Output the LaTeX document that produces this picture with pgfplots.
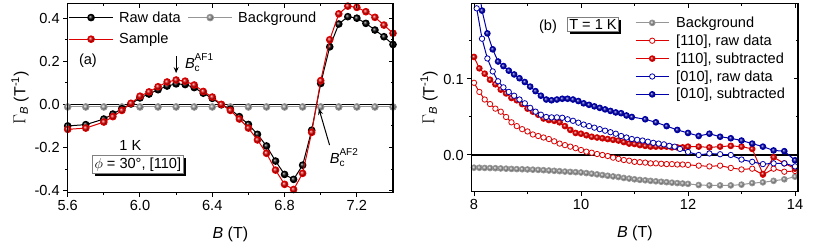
\documentclass[border=0pt]{standalone}
\usepackage{amsmath}
\usepackage{fontspec}
\setmainfont{Liberation Sans}
\usepackage{pgfplots}
\usepackage{pgfplotstable}
\pgfplotsset{compat=1.18}
\usetikzlibrary{shadows,arrows.meta}
\definecolor{myred}{RGB}{220,0,0}
\definecolor{myblue}{RGB}{0,0,170}
\definecolor{mygray}{RGB}{150,150,150}
\newcommand{\fs}{\fontsize{14.6}{17}\selectfont}
\newcommand{\fl}{\fontsize{16}{19}\selectfont}
\newcommand{\fsub}{\fontsize{10}{12}\selectfont}
\newcommand{\Bc}[1]{\textit{B}\rlap{\raisebox{-3.5pt}{\fsub c}}\raisebox{7.5pt}{\fsub #1}}

\pgfplotsset{
  common/.style={
    scale only axis, anchor=south west,
    axis line style={line width=1.1pt},
    every tick/.style={black, line width=1pt},
    major tick length=4.5pt, minor tick length=2.5pt,
  },
  base/.style={common,
    tick align=outside,
    xtick pos=bottom, ytick pos=left,
    tick label style={font=\fs},
    /pgf/number format/assume math mode=true,
    label style={font=\fl},
    clip mode=individual,
  },
  mirror/.style={common,
    tick align=inside,
    xtick pos=top, ytick pos=right,
    xticklabels={}, yticklabels={},
  },
  panelA/.style={at={(67.7pt,51.7pt)}, width=325.3pt, height=189pt,
    xmin=5.6, xmax=7.4, ymin=-0.408, ymax=0.469,
    xtick={5.6,6.0,6.4,6.8,7.2}, minor xtick={5.8,6.2,6.6,7.0},
    ytick={-0.4,-0.2,0,0.2,0.4}, minor ytick={-0.3,-0.1,0.1,0.3}},
  panelB/.style={at={(471.7pt,52.3pt)}, width=326.3pt, height=188.4pt,
    xmin=7.957, xmax=14.056, ymin=-0.0483, ymax=0.1996,
    xtick={8,10,12,14}, minor xtick={9,11,13},
    ytick={0,0.1}, minor ytick={0.05,0.15}},
  fmt1/.style={/pgf/number format/.cd, fixed, fixed zerofill, precision=1},
  ballA/.style={color=#1, line width=1pt, mark=ball, mark size=3.3pt, mark options={ball color=#1}},
  ballB/.style={color=#1, line width=1pt, mark=ball, mark size=2.8pt, mark options={ball color=#1}},
  openB/.style={color=#1, line width=1pt, mark=*, mark size=2.7pt, mark options={fill=white, draw=#1, line width=0.8pt}},
}

\pgfplotstableread{
x y
5.6 -0.012
5.7 -0.012
5.8 -0.012
5.9 -0.012
6.0 -0.012
6.1 -0.012
6.2 -0.012
6.3 -0.012
6.4 -0.012
6.5 -0.012
6.6 -0.012
6.7 -0.012
6.8 -0.012
6.9 -0.012
7.0 -0.012
7.1 -0.012
7.2 -0.012
7.3 -0.012
7.4 -0.012
}\bgA

\pgfplotstableread{
x y
5.6 -0.100
5.7 -0.094
5.8 -0.068
5.85 -0.045
5.9 -0.020
5.95 0.002
6.0 0.030
6.05 0.048
6.1 0.068
6.15 0.085
6.2 0.095
6.25 0.092
6.3 0.078
6.35 0.052
6.4 0.028
6.45 -0.002
6.5 -0.022
6.55 -0.057
6.6 -0.093
6.65 -0.139
6.7 -0.193
6.75 -0.263
6.8 -0.325
6.85 -0.348
6.9 -0.282
6.95 -0.120
7.0 0.097
7.05 0.267
7.1 0.373
7.15 0.407
7.2 0.400
7.25 0.376
7.3 0.345
7.35 0.314
7.4 0.278
}\rawA

\pgfplotstableread{
x y
5.6 -0.116
5.7 -0.110
5.8 -0.082
5.85 -0.057
5.9 -0.028
5.95 0.005
6.0 0.038
6.05 0.058
6.1 0.082
6.15 0.104
6.2 0.113
6.25 0.108
6.3 0.090
6.35 0.060
6.4 0.034
6.45 0.000
6.5 -0.028
6.55 -0.068
6.6 -0.110
6.65 -0.165
6.7 -0.227
6.75 -0.305
6.8 -0.371
6.85 -0.395
6.9 -0.320
6.95 -0.130
7.0 0.110
7.05 0.300
7.1 0.420
7.15 0.456
7.2 0.450
7.25 0.430
7.3 0.404
7.35 0.368
7.4 0.330
}\sampleA

\pgfplotstableread{
x y
8.0 -0.0167
8.1 -0.0168
8.2 -0.0170
8.3 -0.0172
8.4 -0.0174
8.5 -0.0177
8.6 -0.0180
8.7 -0.0183
8.8 -0.0186
8.9 -0.0188
9.0 -0.0190
9.1 -0.0193
9.2 -0.0196
9.3 -0.0200
9.4 -0.0204
9.5 -0.0208
9.6 -0.0213
9.7 -0.0218
9.8 -0.0222
9.9 -0.0226
10.0 -0.0230
10.1 -0.0238
10.2 -0.0246
10.3 -0.0255
10.4 -0.0264
10.5 -0.0273
10.6 -0.0282
10.7 -0.0290
10.8 -0.0302
10.9 -0.0310
11.0 -0.0320
11.1 -0.0327
11.2 -0.0333
11.3 -0.0340
11.4 -0.0346
11.5 -0.0352
11.6 -0.0358
11.7 -0.0364
11.8 -0.0370
11.9 -0.0375
12.0 -0.0380
12.2 -0.0395
12.4 -0.0400
12.6 -0.0400
12.8 -0.0400
13.0 -0.0390
13.2 -0.0370
13.4 -0.0360
13.6 -0.0340
13.8 -0.0320
14.0 -0.0285
}\bgB

\pgfplotstableread{
x y
8.0 0.095
8.1 0.083
8.2 0.073
8.3 0.067
8.4 0.061
8.5 0.057
8.6 0.050
8.7 0.043
8.8 0.038
8.9 0.034
9.0 0.031
9.1 0.027
9.2 0.025
9.3 0.023
9.4 0.021
9.5 0.018
9.6 0.015
9.7 0.013
9.8 0.011
9.9 0.009
10.0 0.0066
10.1 0.0044
10.2 0.003
10.3 0.0013
10.4 0.0
10.5 -0.0013
10.6 -0.0035
10.7 -0.005
10.8 -0.0066
10.9 -0.0075
11.0 -0.009
11.1 -0.0095
11.2 -0.010
11.3 -0.011
11.4 -0.011
11.5 -0.0115
11.6 -0.012
11.7 -0.012
11.8 -0.0125
11.9 -0.0125
12.0 -0.013
12.2 -0.014
12.4 -0.015
12.6 -0.014
12.8 -0.017
13.0 -0.019
13.2 -0.018
13.4 -0.026
13.6 -0.018
13.8 -0.022
14.0 -0.021
}\rawOneB

\pgfplotstableread{
x y
8.0 0.129
8.1 0.114
8.2 0.107
8.3 0.099
8.4 0.093
8.5 0.086
8.6 0.081
8.7 0.075
8.8 0.072
8.9 0.067
9.0 0.061
9.1 0.057
9.2 0.053
9.3 0.048
9.4 0.046
9.5 0.045
9.6 0.043
9.7 0.038
9.8 0.033
9.9 0.029
10.0 0.028
10.1 0.026
10.2 0.024
10.3 0.023
10.4 0.022
10.5 0.021
10.6 0.020
10.7 0.019
10.8 0.017
10.9 0.015
11.0 0.0145
11.1 0.013
11.2 0.012
11.3 0.011
11.4 0.011
11.5 0.011
11.6 0.011
11.7 0.010
11.8 0.010
11.9 0.010
12.0 0.011
12.2 0.011
12.4 0.010
12.6 0.011
12.8 0.012
13.0 0.011
13.2 0.008
13.4 -0.025
13.6 -0.003
13.8 -0.011
14.0 -0.018
}\subOneB

\pgfplotstableread{
x y
8.05 0.193
8.15 0.153
8.25 0.127
8.35 0.110
8.45 0.097
8.55 0.089
8.65 0.083
8.75 0.078
8.85 0.073
8.95 0.068
9.05 0.062
9.15 0.057
9.25 0.053
9.35 0.050
9.45 0.0495
9.55 0.0495
9.65 0.049
9.75 0.047
9.85 0.045
9.95 0.0425
10.05 0.040
10.15 0.038
10.25 0.036
10.35 0.034
10.45 0.032
10.55 0.030
10.65 0.028
10.75 0.025
10.85 0.023
10.95 0.021
11.05 0.020
11.15 0.019
11.25 0.0175
11.35 0.016
11.45 0.015
11.55 0.014
11.65 0.012
11.75 0.011
11.85 0.008
12.0 0.004
12.2 0.000
12.4 0.002
12.6 0.001
12.8 0.000
13.0 -0.006
13.2 -0.009
13.4 -0.012
13.6 -0.011
13.8 -0.011
14.0 -0.015
}\rawTwoB

\pgfplotstableread{
x y
8.15 0.190
8.25 0.160
8.35 0.139
8.45 0.123
8.55 0.117
8.65 0.111
8.75 0.106
8.85 0.101
8.95 0.096
9.05 0.090
9.15 0.084
9.25 0.078
9.35 0.073
9.45 0.072
9.55 0.073
9.65 0.074
9.75 0.074
9.85 0.073
9.95 0.071
10.05 0.068
10.15 0.066
10.25 0.064
10.35 0.062
10.45 0.060
10.55 0.058
10.65 0.056
10.75 0.055
10.85 0.052
10.95 0.050
11.2 0.047
11.4 0.043
11.6 0.038
11.8 0.033
12.0 0.029
12.2 0.025
12.4 0.028
12.6 0.024
12.8 0.022
13.0 0.019
13.2 0.015
13.4 0.011
13.6 0.006
13.8 0.005
14.0 -0.007
}\subTwoB

\begin{document}
\begin{tikzpicture}
\useasboundingbox (0pt,0pt) rectangle (813pt,244pt);

% ---------------- panel (a) ----------------
\begin{axis}[base, panelA,
  xticklabel style={fmt1}, yticklabel style={fmt1},
  xlabel={\textit{B} (T)},
  ylabel={$\Gamma$\textsubscript{\textit{B}} (T\textsuperscript{-1})},
  xlabel style={at={(axis description cs:0.5,-0.2206)}, anchor=center},
  ylabel style={at={(axis description cs:-0.1466,0.5)}, anchor=center},
  legend columns=2, legend cell align=left,
  legend style={draw=none, fill=none, inner sep=0pt, font=\fs,
    at={(axis description cs:0.002,0.968)}, anchor=north west,
    column sep=3.5pt, row sep=5.5pt,
    /tikz/every even column/.append style={column sep=5pt}},
  legend image code/.code={\draw[mark repeat=2,mark phase=2,#1] plot coordinates {(0pt,0pt) (22pt,0pt) (44pt,0pt)};},
]
\addplot[black, line width=1.3pt, forget plot] coordinates {(5.6,0) (7.4,0)};
\addplot[ballA=mygray, forget plot] table {\bgA};
\addplot[ballA=black, forget plot] table {\rawA};
\addplot[ballA=myred, forget plot] table {\sampleA};
\addlegendimage{ballA=black}\addlegendentry{Raw data}
\addlegendimage{ballA=mygray}\addlegendentry{Background}
\addlegendimage{ballA=myred}\addlegendentry{Sample}

\node[font=\fs] at (axis cs:5.712,0.203) {(a)};
\draw[line width=1pt, -{Stealth[length=6pt,width=5pt]}] (axis cs:6.2,0.224) -- (axis cs:6.2,0.145);
\node[font=\fs, anchor=base west, inner sep=0pt] at (axis cs:6.248,0.167) {\Bc{AF1}};
\draw[line width=1pt, -{Stealth[length=6pt,width=5pt]}] (axis cs:7.049,-0.189) -- (axis cs:6.99,-0.02);
\node[font=\fs, anchor=base west, inner sep=0pt] at (axis cs:7.049,-0.274) {\Bc{AF2}};
\node[font=\fs] at (axis cs:5.947,-0.191) {1 K};
\node[font=\fs, draw=gray, fill=white, line width=0.6pt, inner sep=2pt,
  drop shadow={shadow xshift=2.5pt, shadow yshift=-2.5pt, opacity=1, fill=black}]
  at (axis cs:5.988,-0.278) {$\phi$ = 30°, [110]};
\end{axis}
\begin{axis}[mirror, panelA]
\end{axis}

% ---------------- panel (b) ----------------
\begin{axis}[base, panelB,
  xticklabel style={/pgf/number format/.cd, fixed, precision=0},
  yticklabel style={fmt1},
  xlabel={\textit{B} (T)},
  ylabel={$\Gamma$\textsubscript{\textit{B}} (T\textsuperscript{-1})},
  xlabel style={at={(axis description cs:0.5,-0.2206)}, anchor=center},
  ylabel style={at={(axis description cs:-0.131,0.5)}, anchor=center},
  legend cell align=left,
  legend style={draw=none, fill=none, inner sep=0pt, font=\fs,
    at={(axis description cs:0.5005,0.94)}, anchor=north west,
    column sep=5pt, row sep=1.8pt},
  legend image code/.code={\draw[mark repeat=2,mark phase=2,#1] plot coordinates {(0pt,0pt) (16.5pt,0pt) (33pt,0pt)};},
]
\addplot[black, line width=1.3pt, forget plot] coordinates {(7.957,0) (14.056,0)};
\addplot[ballB=mygray] table {\bgB};
\addlegendentry{Background}
\addplot[openB=myred] table {\rawOneB};
\addlegendentry{[110], raw data}
\addplot[ballB=myred] table {\subOneB};
\addlegendentry{[110], subtracted}
\addplot[openB=myblue] table {\rawTwoB};
\addlegendentry{[010], raw data}
\addplot[myblue, line width=1pt, forget plot] coordinates {(8.05,0.24) (8.15,0.19)};
\addplot[ballB=myblue] table {\subTwoB};
\addlegendentry{[010], subtracted}

\node[font=\fs] at (axis cs:9.383,0.169) {(b)};
\node[font=\fs, draw=gray, fill=white, line width=0.6pt, inner sep=2pt,
  drop shadow={shadow xshift=2.5pt, shadow yshift=-2.5pt, opacity=1, fill=black}]
  at (axis cs:10.224,0.172) {T = 1 K};
\end{axis}
\begin{axis}[mirror, panelB]
\end{axis}
\end{tikzpicture}
\end{document}
